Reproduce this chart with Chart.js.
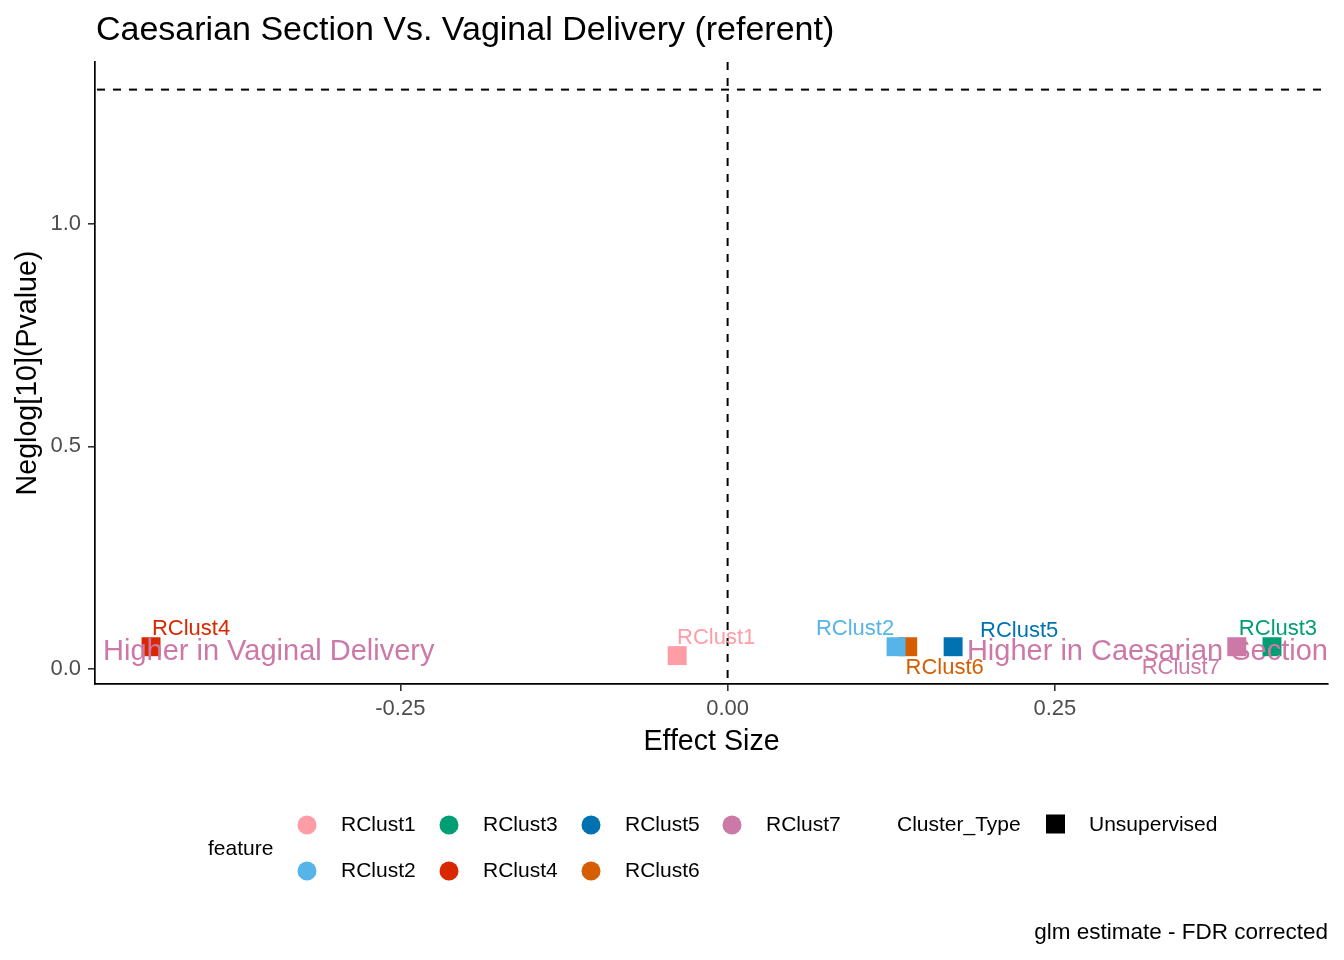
<!DOCTYPE html>
<html>
<head>
<meta charset="utf-8">
<title>Caesarian Section Vs. Vaginal Delivery</title>
<script src="https://cdn.jsdelivr.net/npm/chart.js@4.4.1/dist/chart.umd.min.js"></script>
<style>
  html, body { margin: 0; padding: 0; background: #ffffff; }
  #wrap { width: 1344px; height: 960px; }
</style>
</head>
<body>
<div id="wrap"><canvas id="volcanoChart" width="1344" height="960"></canvas></div>
<script>
// Data
const features = ["RClust1", "RClust2", "RClust3", "RClust4", "RClust5", "RClust6", "RClust7"];
const effectSize = [-0.0385, 0.1287, 0.4159, -0.4405, 0.1723, 0.1376, 0.389];
const neglogP = [0.03, 0.05, 0.05, 0.05, 0.05, 0.05, 0.05];
const featureColors = ["#FF9DA7", "#56B4E9", "#009E73", "#D92800", "#0072B2", "#D55E00", "#CC79A7"];
const xTicks = [-0.25, 0, 0.25];
const yTicks = [0, 0.5, 1.0];
const xRange = [-0.4833, 0.4587];
const yRange = [-0.0337, 1.363];
const pThreshold = 1.301; // -log10(0.05)
const annotLeft = "Higher in Vaginal Delivery";
const annotRight = "Higher in Caesarian Section";
const annotY = 0.039;

const FONT = "'Liberation Sans', Arial, sans-serif";

// ggrepel-like label nudges (pixels)
const labelNudge = [[39, -18], [-41, -18], [6, -18], [40, -18], [66, -16], [37, 21], [-56, 21]];

const datasets = features.map(function (name, i) {
  return {
    label: name,
    data: [{ x: effectSize[i], y: neglogP[i] }],
    backgroundColor: featureColors[i],
    borderColor: featureColors[i],
    borderWidth: 0,
    pointStyle: "rect",
    pointRadius: 13.4,
    pointHoverRadius: 13.4,
  };
});

const extrasPlugin = {
  id: "extras",
  beforeDatasetsDraw(chart) {
    const ctx = chart.ctx;
    const xs = chart.scales.x;
    const ys = chart.scales.y;
    const area = chart.chartArea;
    ctx.save();
    ctx.strokeStyle = "#000000";
    ctx.lineWidth = 2;
    ctx.setLineDash([8, 8]);
    const x0 = xs.getPixelForValue(0);
    ctx.beginPath();
    ctx.moveTo(x0, area.top);
    ctx.lineTo(x0, area.bottom);
    ctx.stroke();
    const yT = ys.getPixelForValue(pThreshold);
    ctx.lineDashOffset = -2;
    ctx.beginPath();
    ctx.moveTo(area.left, yT);
    ctx.lineTo(area.right, yT);
    ctx.stroke();
    ctx.restore();
  },
  afterDatasetsDraw(chart) {
    const ctx = chart.ctx;
    const xs = chart.scales.x;
    const ys = chart.scales.y;
    const area = chart.chartArea;
    ctx.save();
    ctx.textBaseline = "middle";
    ctx.textAlign = "center";
    ctx.font = "22px " + FONT;
    features.forEach(function (name, i) {
      const px = xs.getPixelForValue(effectSize[i]);
      const py = ys.getPixelForValue(neglogP[i]);
      ctx.fillStyle = featureColors[i];
      ctx.fillText(name, px + labelNudge[i][0], py + labelNudge[i][1]);
    });

    // direction annotations
    ctx.font = "29px " + FONT;
    ctx.fillStyle = "#CC79A7";
    const ay = ys.getPixelForValue(annotY);
    ctx.textAlign = "left";
    ctx.fillText(annotLeft, area.left + 8, ay);
    ctx.textAlign = "right";
    ctx.fillText(annotRight, area.right, ay);
    ctx.restore();
  },
  afterDraw(chart) {
    const ctx = chart.ctx;
    const area = chart.chartArea;
    ctx.save();
    ctx.fillStyle = "#000000";
    ctx.textBaseline = "middle";

    // title
    ctx.textAlign = "left";
    ctx.font = "34px " + FONT;
    ctx.fillText("Caesarian Section Vs. Vaginal Delivery (referent)", 96, 31);

    // axis titles
    ctx.textAlign = "center";
    ctx.font = "28.6px " + FONT;
    ctx.fillText("Effect Size", (area.left + area.right) / 2, 742);
    ctx.save();
    ctx.translate(28, (area.top + area.bottom) / 2);
    ctx.rotate(-Math.PI / 2);
    ctx.fillText("Neglog[10](Pvalue)", 0, 0);
    ctx.restore();

    // legend: feature
    ctx.font = "21px " + FONT;
    ctx.textAlign = "left";
    ctx.fillText("feature", 208, 849);
    const colX = [307, 449, 591, 732];
    const rowY = [825, 871];
    features.forEach(function (name, i) {
      const col = Math.floor(i / 2);
      const row = i % 2;
      const cx = colX[col];
      const cy = rowY[row];
      ctx.fillStyle = featureColors[i];
      ctx.beginPath();
      ctx.arc(cx, cy, 9.5, 0, Math.PI * 2);
      ctx.fill();
      ctx.fillStyle = "#000000";
      ctx.fillText(name, cx + 34, cy);
    });

    // legend: Cluster_Type
    ctx.fillText("Cluster_Type", 897, 825);
    ctx.fillRect(1046, 814.5, 19, 19);
    ctx.fillText("Unsupervised", 1089, 825);

    // caption
    ctx.textAlign = "right";
    ctx.font = "22.5px " + FONT;
    ctx.fillText("glm estimate - FDR corrected", 1328, 933);
    ctx.restore();
  },
};

const ctx = document.getElementById("volcanoChart").getContext("2d");
const volcanoChart = new Chart(ctx, {
  type: "scatter",
  data: { datasets: datasets },
  options: {
    responsive: false,
    animation: false,
    devicePixelRatio: 1,
    layout: { padding: { top: 62, right: 16, left: 0, bottom: 0 } },
    plugins: {
      legend: { display: false },
      tooltip: { enabled: false },
      title: { display: false },
    },
    scales: {
      x: {
        type: "linear",
        min: xRange[0],
        max: xRange[1],
        afterBuildTicks: function (scale) {
          scale.ticks = xTicks.map(function (v) { return { value: v }; });
        },
        afterFit: function (scale) {
          scale.height = 276;
        },
        ticks: {
          autoSkip: false,
          maxRotation: 0,
          padding: 5,
          color: "#4D4D4D",
          font: { family: FONT, size: 22 },
          callback: function (v) { return v.toFixed(2); },
        },
        grid: {
          display: true,
          drawOnChartArea: false,
          drawTicks: true,
          tickLength: 7,
          color: "#333333",
          lineWidth: 1.6,
        },
        border: { display: true, color: "#000000", width: 1.7 },
      },
      y: {
        type: "linear",
        min: yRange[0],
        max: yRange[1],
        afterBuildTicks: function (scale) {
          scale.ticks = yTicks.map(function (v) { return { value: v }; });
        },
        afterFit: function (scale) {
          scale.width = 95;
        },
        ticks: {
          autoSkip: false,
          padding: 7,
          color: "#4D4D4D",
          font: { family: FONT, size: 22 },
          callback: function (v) { return v.toFixed(1); },
        },
        grid: {
          display: true,
          drawOnChartArea: false,
          drawTicks: true,
          tickLength: 7,
          color: "#333333",
          lineWidth: 1.6,
        },
        border: { display: true, color: "#000000", width: 1.7 },
      },
    },
  },
  plugins: [extrasPlugin],
});
</script>
</body>
</html>
